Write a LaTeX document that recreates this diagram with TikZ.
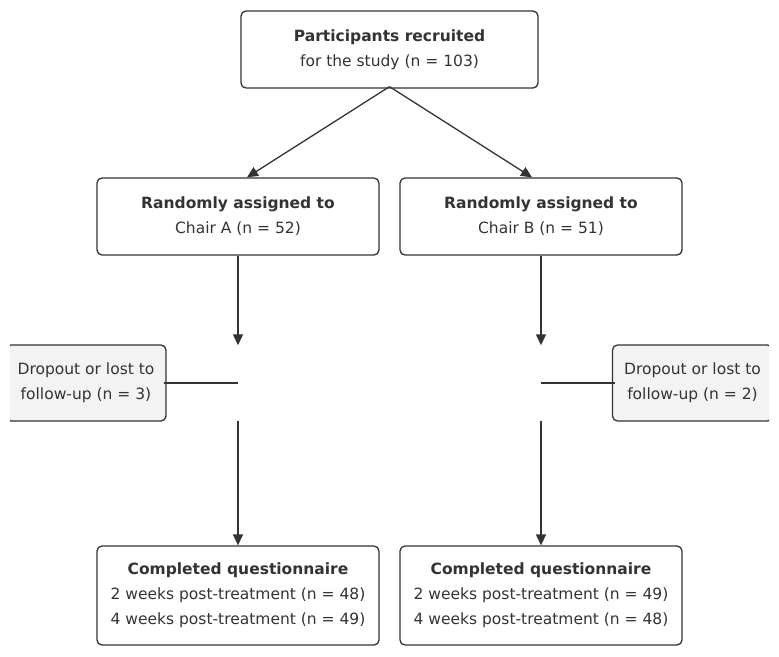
\documentclass[tikz,border=0pt]{standalone}
\usepackage{fontspec}
\setmainfont{DejaVu Sans}
\usetikzlibrary{arrows.meta,positioning}
\definecolor{ink}{RGB}{51,51,51}
\definecolor{soft}{RGB}{243,243,243}
\tikzset{
  box/.style={draw=ink,line width=1.3pt,rounded corners=5pt,fill=white,text=ink,
    align=center,minimum width=282pt,minimum height=77pt,inner sep=0pt},
  drop/.style={box,fill=soft,minimum width=160pt,minimum height=76pt},
  hub/.style={inner sep=0pt,minimum width=0pt,minimum height=75pt},
  arr/.style={-{Triangle[length=11pt,width=10pt]},line width=1.3pt,ink},
  tie/.style={line width=1.3pt,ink},
}

\begin{document}
\begin{tikzpicture}[x=1pt,y=-1pt,every node/.style={font=\fontsize{15.5}{25}\selectfont}]
\useasboundingbox (0,0) rectangle (779,656);
\node[box,minimum width=297pt] (top) at (389.5,49.5)
  {\textbf{Participants recruited}\\for the study (n = 103)};
\node[box] (chairA) at (238,216.5) {\textbf{Randomly assigned to}\\Chair A (n = 52)};
\node[box] (chairB) at (541,216.5) {\textbf{Randomly assigned to}\\Chair B (n = 51)};
\node[hub] (hubA) at (238,383) {};
\node[hub] (hubB) at (541,383) {};
% dropout boxes run off the page edges
\begin{scope}
\clip (10,0) rectangle (769,656);
\node[drop] (dropA) at (86,383) {Dropout or lost to\\follow-up (n = 3)};
\node[drop] (dropB) at (692.5,383) {Dropout or lost to\\follow-up (n = 2)};
\end{scope}
\node[box,minimum height=99pt] (doneA) at (238,595.5)
  {\textbf{Completed questionnaire}\\2 weeks post-treatment (n = 48)\\4 weeks post-treatment (n = 49)};
\node[box,minimum height=99pt] (doneB) at (541,595.5)
  {\textbf{Completed questionnaire}\\2 weeks post-treatment (n = 49)\\4 weeks post-treatment (n = 48)};

\draw[arr] ([yshift=2pt]top.south) -- ([xshift=9pt]chairA.north);
\draw[arr] ([yshift=2pt]top.south) -- ([xshift=-9pt]chairB.north);
\draw[arr] (chairA) -- (hubA);
\draw[arr] (chairB) -- (hubB);
\draw[tie] ([xshift=-3pt]dropA.east) -- (hubA);
\draw[tie] ([xshift=3pt]dropB.west) -- (hubB);
\draw[arr] (hubA) -- (doneA);
\draw[arr] (hubB) -- (doneB);
\end{tikzpicture}
\end{document}
